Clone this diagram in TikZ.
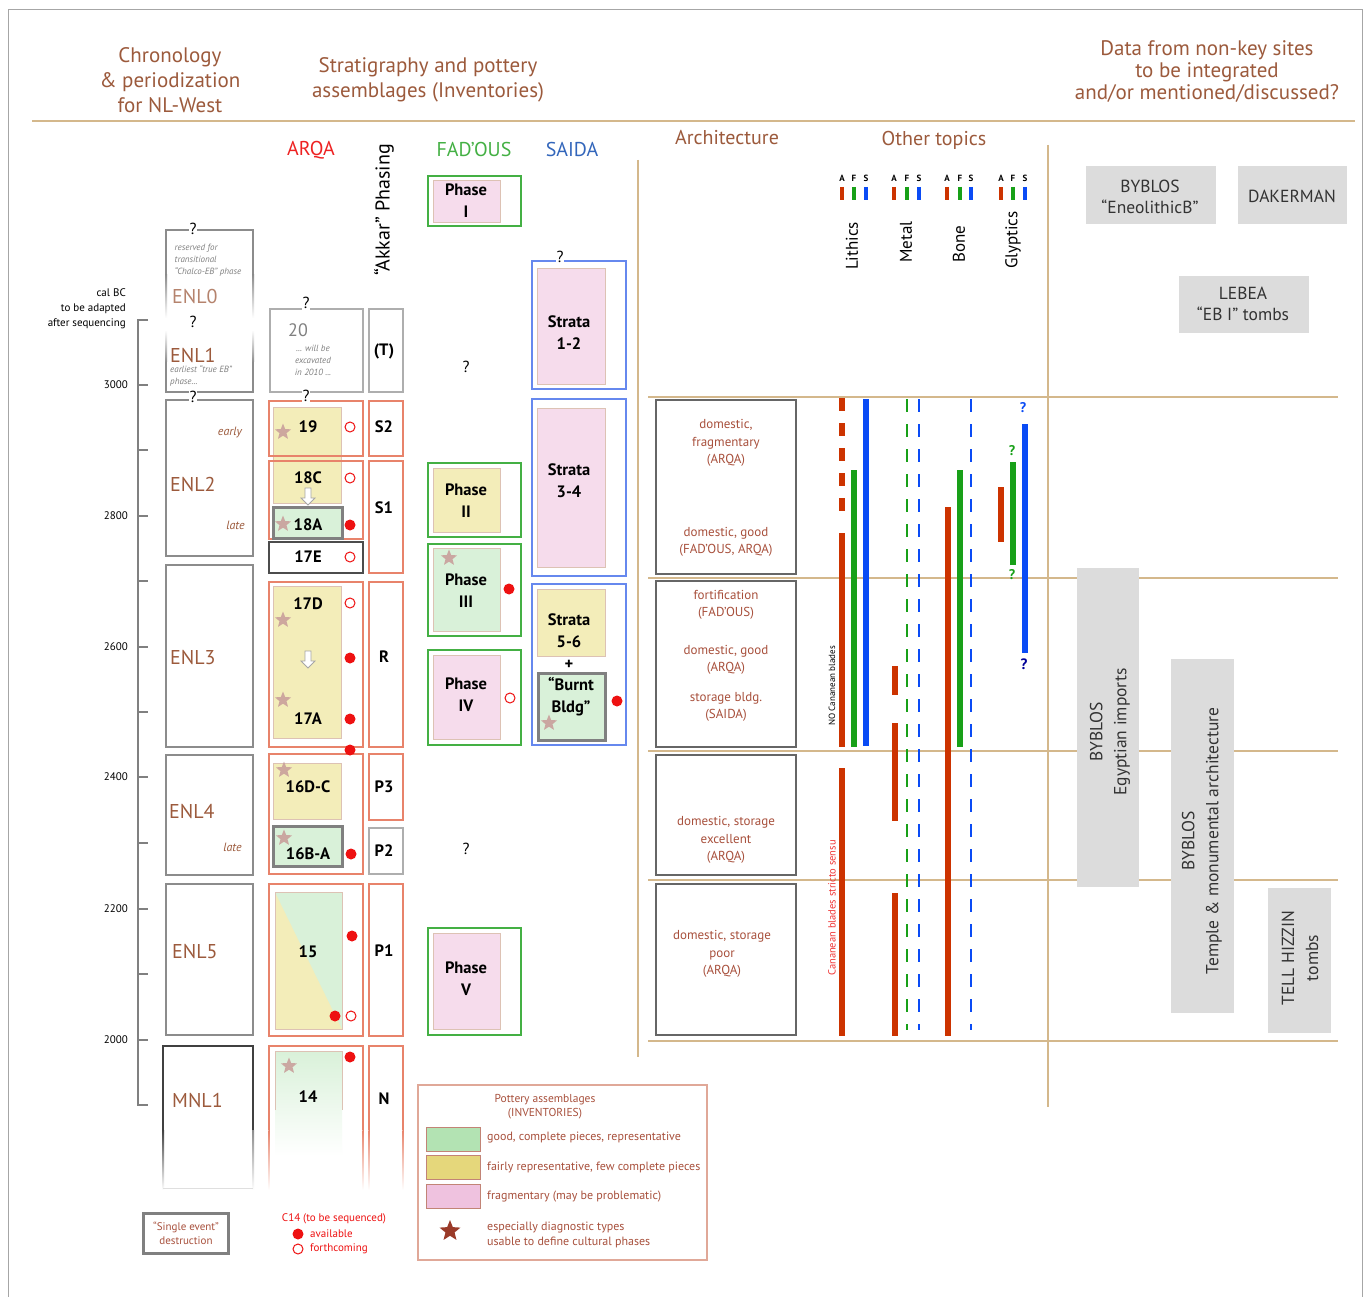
\documentclass[tikz,border=0pt]{standalone}
\usepackage{fontspec}
\setmainfont{PT Sans}
\usetikzlibrary{shapes.geometric}
\newcommand{\fsz}[2]{\fontsize{#1}{#2}\selectfont}
\definecolor{brn}{HTML}{9C5A3C}
\definecolor{rbrn}{HTML}{A8503C}
\definecolor{tanl}{HTML}{D4B88C}
\definecolor{obor}{HTML}{E8836B}
\definecolor{gbor}{HTML}{8C8C8C}
\definecolor{yel}{HTML}{F3EDB9}
\definecolor{grn}{HTML}{D9F1D9}
\definecolor{pnk}{HTML}{F6DCEC}
\definecolor{inb}{HTML}{DDC2B4}
\definecolor{starc}{HTML}{C9A09C}
\definecolor{rbar}{HTML}{CC3300}
\definecolor{gbar}{HTML}{18A018}
\definecolor{bbar}{HTML}{0A4BF5}
\definecolor{fgreen}{HTML}{44B044}
\definecolor{sblue}{HTML}{6688EE}
\definecolor{sbluet}{HTML}{3366BB}
\definecolor{arqa}{HTML}{EE2222}
\definecolor{boxg}{HTML}{DCDCDC}
\definecolor{dot}{HTML}{EE1111}
\definecolor{legb}{HTML}{E0A898}
\definecolor{lgg}{HTML}{B3E3B3}
\definecolor{lgy}{HTML}{E5D77B}
\definecolor{lgp}{HTML}{EFC2DF}
\definecolor{lgs}{HTML}{9A3A28}
\begin{document}
\begin{tikzpicture}[x=1pt,y=-1pt,
  hdr/.style={text=brn, font=\fsz{21}{25}, align=center, inner sep=0},
  q/.style={font=\fsz{16}{18}, fill=white, inner sep=1pt},
  bl/.style={font=\bfseries\fsz{16.5}{22}, align=center, inner sep=0},
  enl/.style={text=brn, font=\fsz{20}{24}, anchor=west, inner sep=0},
  itn/.style={text=gray, font=\itshape\fsz{9}{12}, align=left, inner sep=0},
  ite/.style={text=brn, font=\itshape\fsz{12}{14}, anchor=east, inner sep=0},
  tick/.style={font=\fsz{11}{13}, anchor=east, inner sep=0},
  gbox/.style={gbor, line width=2},
  obox/.style={obor, line width=1.5},
  fbox/.style={fgreen, line width=1.5},
  sbox/.style={sblue, line width=1.5},
  abox/.style={gray!80!black, line width=1.5},
  inner/.style={draw=inb, line width=0.8},
  burnt/.style={draw=gray, line width=3, fill=grn},
  archt/.style={text=rbrn, font=\fsz{13}{17.5}, align=center, inner sep=0},
  fc/.style={circle, fill=dot, inner sep=0, minimum size=11},
  oc/.style={circle, draw=dot, fill=white, line width=1, inner sep=0, minimum size=10},
  st/.style={star, star points=5, star point ratio=2.3, fill=starc, inner sep=0, minimum size=17, opacity=0.9},
  rb/.style={rbar, line width=6},
  gb/.style={gbar, line width=6},
  bb/.style={bbar, line width=6},
  gd/.style={gbar, line width=2.2, dash pattern=on 13 off 12},
  bd/.style={bbar, line width=2.8, dash pattern=on 13 off 12},
  afs/.style={font=\bfseries\fsz{9}{10}, inner sep=0},
  topic/.style={rotate=90, font=\fsz{17}{20}, inner sep=0},
  sitet/.style={text=black!80, font=\fsz{17.5}{21}, align=center, inner sep=0},
  legt/.style={text=rbrn, font=\fsz{12}{14.5}, anchor=west, align=left, inner sep=0}
]
\useasboundingbox (0,0) rectangle (1366,1297);
\fill[white] (0,0) rectangle (1366,1297);
% frame
\draw[gray!70, line width=1] (8,1297) -- (8,10) -- (1362,10) -- (1362,1297);

% headers
\node[hdr] (hChron) at (170,80) {Chronology\\\& periodization\\for NL-West};
\node[hdr] (hStrat) at (428,80) {Stratigraphy and pottery\\assemblages (Inventories)};
\node[hdr, font=\fsz{21}{22}] (hData) at (1207,72) {Data from non-key sites\\to be integrated\\and/or mentioned/discussed?};
\draw[tanl, line width=2.5] (32,121) -- (1355,121);

\node[text=arqa, font=\fsz{20}{24}] (hArqa) at (311,150) {ARQA};
\node[rotate=90, font=\fsz{20}{22}, inner sep=0] (hAkkar) at (384,210) {“Akkar” Phasing};
\node[text=fgreen, font=\fsz{20}{24}] (hFad) at (474,150) {FAD’OUS};
\node[text=sbluet, font=\fsz{20}{24}] (hSaida) at (572,150) {SAIDA};
\node[text=brn, font=\fsz{20}{24}] (hArch) at (727,138) {Architecture};
\node[text=brn, font=\fsz{20}{24}] (hOther) at (934,140) {Other topics};

% tan grid
\draw[tanl, line width=1.5] (638,160) -- (638,1057);
\draw[tanl, line width=1.5] (1048,145) -- (1048,1107);
\foreach \yy in {397,578,751,880,1041} \draw[tanl, line width=1.2] (648,\yy) -- (1338,\yy);

% time axis
\draw[gray, line width=1.5] (148,320) -- (138,320) -- (138,1105) -- (148,1105);
\foreach \yy in {385,450,516,581,647,712,777,843,909,974,1040} \draw[gray, line width=1.5] (138,\yy) -- (148,\yy);
\node[tick] (y3000) at (128,385) {3000};
\node[tick] (y2800) at (128,516) {2800};
\node[tick] (y2600) at (128,647) {2600};
\node[tick] (y2400) at (128,777) {2400};
\node[tick] (y2200) at (128,909) {2200};
\node[tick] (y2000) at (128,1040) {2000};
\node[tick, align=right, font=\fsz{11}{15}] (calbc) at (126,309) {cal BC\\to be adapted\\after sequencing};

% ENL boxes
\draw[gbox] (166,275) -- (166,230) -- (253,230) -- (253,275);
\shade[top color=gbor, bottom color=white] (165,275) rectangle (167,318);
\shade[top color=gbor, bottom color=white] (252,275) rectangle (254,318);
\shade[top color=white, bottom color=gbor] (165,330) rectangle (167,362);
\shade[top color=white, bottom color=gbor] (252,330) rectangle (254,362);
\draw[gbox] (166,362) -- (166,392) -- (253,392) -- (253,362);
\draw[gbox] (166,400) rectangle (253,556);
\draw[gbox] (166,565) rectangle (253,747);
\draw[gbox] (166,755) rectangle (253,875);
\draw[gbox] (166,884) rectangle (253,1035);
\draw[black!75, line width=1.5] (163,1130) -- (163,1046) -- (253,1046) -- (253,1130);
\shade[top color=black!75, bottom color=white] (162,1130) rectangle (164,1190);
\shade[top color=gbor, bottom color=white] (252,1130) rectangle (254,1190);
\draw[gray!25, line width=1] (163,1188) -- (253,1188);

\node[q] (q1) at (193,229) {?};
\node[q] (q2) at (193,322) {?};
\node[q] (q3) at (193,397) {?};

\node[itn] (n0) at (208,260) {reserved for\\transitional\\“Chalco-EB” phase};
\node[enl, text=brn!75] (enl0) at (172,297) {ENL0};
\node[enl] (enl1) at (170,355) {ENL1};
\node[itn, anchor=north west] (n1) at (170,365) {earliest “true EB”\\phase...};
\node[ite] (early) at (242,433) {early};
\node[enl] (enl2) at (170,484) {ENL2};
\node[ite] (late1) at (245,525) {late};
\node[enl] (enl3) at (170,658) {ENL3};
\node[enl] (enl4) at (169,811) {ENL4};
\node[ite] (late2) at (242,847) {late};
\node[enl] (enl5) at (172,952) {ENL5};
\node[enl] (mnl1) at (172,1100) {MNL1};

% ARQA column
\draw[gbor!70, line width=1.5] (270,309) rectangle (363,392);
\node[q] (q4) at (306,303) {?};
\node[text=gray, font=\fsz{18}{20}] (a20) at (298,330) {20};
\node[itn, align=center] (n20) at (313,360) {... will be\\excavated\\in 2010 ...};

\filldraw[fill=yel, inner] (273,407) rectangle (341,503);
\draw[obox] (269,401) rectangle (363,456);
\draw[obox] (269,461) rectangle (363,539);
\filldraw[burnt] (273,507) rectangle (342,538);
\draw[black!70, line width=1.5] (269,542) rectangle (363,573);
\node[q] (q5) at (306,396) {?};
\filldraw[fill=yel, inner] (273,586) rectangle (341,738);
\draw[obox] (269,582) rectangle (363,747);
\draw[obox] (269,754) rectangle (363,874);
\filldraw[fill=yel, inner] (273,763) rectangle (341,819);
\filldraw[burnt] (273,826) rectangle (342,866);
\draw[obox] (269,884) rectangle (363,1036);
\fill[yel] (275,892) rectangle (342,1029);
\fill[grn] (275,892) -- (342,892) -- (342,1029) -- cycle;
\draw[inner] (275,892) rectangle (342,1029);
\draw[obox] (269,1130) -- (269,1046) -- (363,1046) -- (363,1130);
\shade[top color=obor, bottom color=white] (268.25,1130) rectangle (269.75,1190);
\shade[top color=obor, bottom color=white] (362.25,1130) rectangle (363.75,1190);
\shade[top color=grn, bottom color=white] (275,1051) rectangle (342,1156);
\draw[inner] (275,1110) -- (275,1051) -- (342,1051) -- (342,1110);

% down arrows
\draw[gray!70, line width=0.8, fill=white, shift={(308,498)}] (-3,-10) -- (3,-10) -- (3,0) -- (7,0) -- (0,7) -- (-7,0) -- (-3,0) -- cycle;
\draw[gray!70, line width=0.8, fill=white, shift={(308,661)}] (-3,-10) -- (3,-10) -- (3,0) -- (7,0) -- (0,7) -- (-7,0) -- (-3,0) -- cycle;

% stars
\node[st] (s1) at (283,432) {};
\node[st] (s2) at (283,524) {};
\node[st] (s3) at (283,620) {};
\node[st] (s4) at (283,700) {};
\node[st] (s5) at (284,770) {};
\node[st] (s6) at (284,838) {};
\node[st] (s7) at (289,1066) {};

\node[bl] (l19) at (308,427) {19};
\node[bl] (l18c) at (308,478) {18C};
\node[bl] (l18a) at (308,525) {18A};
\node[bl] (l17e) at (308,557) {17E};
\node[bl] (l17d) at (308,604) {17D};
\node[bl] (l17a) at (308,719) {17A};
\node[bl] (l16dc) at (308,787) {16D-C};
\node[bl] (l16ba) at (308,854) {16B-A};
\node[bl] (l15) at (308,952) {15};
\node[bl] (l14) at (308,1097) {14};

% circles
\node[oc] (c1) at (350,427) {};
\node[oc] (c2) at (350,478) {};
\node[fc] (c3) at (350,525) {};
\node[oc] (c4) at (350,557) {};
\node[oc] (c5) at (350,603) {};
\node[fc] (c6) at (350,658) {};
\node[fc] (c7) at (350,719) {};
\node[fc] (c8) at (350,750) {};
\node[fc] (c9) at (351,854) {};
\node[fc] (c10) at (352,936) {};
\node[fc] (c11) at (335,1016) {};
\node[oc] (c12) at (351,1016) {};
\node[fc] (c13) at (350,1057) {};
\node[fc] (c14) at (509,589) {};
\node[oc] (c15) at (510,698) {};
\node[fc] (c16) at (617,701) {};

% Akkar column
\draw[gbor!70, line width=1.5] (369,309) rectangle (403,392);
\draw[obox] (369,401) rectangle (403,456);
\draw[obox] (369,461) rectangle (403,573);
\draw[obox] (369,582) rectangle (403,747);
\draw[obox] (369,754) rectangle (403,820);
\draw[gbor!70, line width=1.5] (369,828) rectangle (403,874);
\draw[obox] (369,884) rectangle (403,1036);
\draw[obox] (369,1130) -- (369,1046) -- (403,1046) -- (403,1130);
\shade[top color=obor, bottom color=white] (368.25,1130) rectangle (369.75,1190);
\shade[top color=obor, bottom color=white] (402.25,1130) rectangle (403.75,1190);
\node[bl] (pT) at (384,351) {(T)};
\node[bl] (pS2) at (384,427) {S2};
\node[bl] (pS1) at (384,508) {S1};
\node[bl] (pR) at (384,657) {R};
\node[bl] (pP3) at (384,787) {P3};
\node[bl] (pP2) at (384,851) {P2};
\node[bl] (pP1) at (384,951) {P1};
\node[bl] (pN) at (384,1099) {N};

% FAD'OUS
\draw[fbox] (428,176) rectangle (521,226);
\filldraw[fill=pnk, inner] (433,180) rectangle (500,222);
\node[bl] (f1) at (466,201) {Phase\\I};
\node[font=\fsz{16}{18}, inner sep=0] (q6) at (466,367) {?};
\draw[fbox] (428,463) rectangle (521,537);
\filldraw[fill=yel, inner] (433,468) rectangle (500,532);
\node[bl] (f2) at (466,501) {Phase\\II};
\draw[fbox] (428,544) rectangle (521,636);
\filldraw[fill=grn, inner] (433,548) rectangle (500,631);
\node[st] (s8) at (449,558) {};
\node[bl] (f3) at (466,591) {Phase\\III};
\draw[fbox] (428,650) rectangle (521,745);
\filldraw[fill=pnk, inner] (433,655) rectangle (500,739);
\node[bl] (f4) at (466,695) {Phase\\IV};
\node[font=\fsz{16}{18}, inner sep=0] (q7) at (466,849) {?};
\draw[fbox] (428,928) rectangle (521,1035);
\filldraw[fill=pnk, inner] (433,933) rectangle (500,1029);
\node[bl] (f5) at (466,979) {Phase\\V};

% SAIDA
\draw[sbox] (532,261) rectangle (626,389);
\node[q] (q8) at (560,257) {?};
\filldraw[fill=pnk, inner] (537,268) rectangle (605,384);
\node[bl] (sa1) at (569,333) {Strata\\1-2};
\draw[sbox] (532,399) rectangle (626,576);
\filldraw[fill=pnk, inner] (537,408) rectangle (605,567);
\node[bl] (sa2) at (569,481) {Strata\\3-4};
\draw[sbox] (532,584) rectangle (626,745);
\filldraw[fill=yel, inner] (537,589) rectangle (605,656);
\node[bl] (sa3) at (569,631) {Strata\\5-6};
\node[bl] (plus) at (569,665) {+};
\filldraw[burnt] (538,673) rectangle (605,740);
\node[st] (s9) at (549,723) {};
\node[bl] (sa4) at (571,697) {“Burnt\\Bldg”};

% Architecture
\draw[abox] (656,400) rectangle (796,574);
\draw[abox] (656,581) rectangle (796,747);
\draw[abox] (656,755) rectangle (796,875);
\draw[abox] (656,884) rectangle (796,1035);
\node[archt] (ar1) at (726,443) {domestic,\\fragmentary\\(ARQA)};
\node[archt] (ar2) at (726,542) {domestic, good\\(FAD’OUS, ARQA)};
\node[archt] (ar3) at (726,605) {fortification\\(FAD’OUS)};
\node[archt] (ar4) at (726,660) {domestic, good\\(ARQA)};
\node[archt] (ar5) at (726,707) {storage bldg.\\(SAIDA)};
\node[archt] (ar6) at (726,840) {domestic, storage\\excellent\\(ARQA)};
\node[archt] (ar7) at (722,954) {domestic, storage\\poor\\(ARQA)};

% AFS legend
\foreach \xa/\xf/\xs/\nm in {842/854/866/a, 894/907/919/b, 947/960/971/c, 1001/1013/1025/d}{
  \node[afs] (A\nm) at (\xa,178) {A};
  \node[afs] (F\nm) at (\xf,178) {F};
  \node[afs] (S\nm) at (\xs,178) {S};
  \draw[rbar, line width=4] (\xa,187) -- (\xa,200);
  \draw[gbar, line width=4] (\xf,187) -- (\xf,200);
  \draw[bbar, line width=4] (\xs,187) -- (\xs,200);
}
\node[topic] (tLith) at (852,246) {Lithics};
\node[topic] (tMetal) at (906,242) {Metal};
\node[topic] (tBone) at (959,244) {Bone};
\node[topic] (tGlyp) at (1013,240) {Glyptics};

% Lithics
\draw[rbar, line width=6, dash pattern=on 13 off 12] (842,398) -- (842,512);
\draw[rb] (842,533) -- (842,747);
\draw[gb] (854,470) -- (854,747);
\draw[bb] (866,399) -- (866,746);
\draw[rb] (842,768) -- (842,1036);
\node[rotate=90, font=\fsz{9}{10}, inner sep=0] (noCan) at (832,686) {NO Cananean blades};
\node[rotate=90, font=\fsz{10.5}{12}, text=dot!85, inner sep=0] (can) at (832,908) {Cananean blades stricto sensu};
% Metal
\draw[rb] (895,666) -- (895,695);
\draw[rb] (895,723) -- (895,821);
\draw[rb] (895,893) -- (895,1036);
\draw[gd] (907,399) -- (907,1030);
\draw[bd] (919,399) -- (919,1030);
% Bone
\draw[rb] (948,507) -- (948,1036);
\draw[gb] (960,470) -- (960,747);
\draw[bd] (971,399) -- (971,1030);
% Glyptics
\draw[rb] (1001,487) -- (1001,542);
\draw[gb] (1013,462) -- (1013,565);
\draw[bb] (1025,424) -- (1025,653);
\node[text=bbar, font=\bfseries\fsz{14}{16}, inner sep=0] (gq1) at (1023,408) {?};
\node[text=gbar, font=\bfseries\fsz{14}{16}, inner sep=0] (gq2) at (1012,451) {?};
\node[text=gbar, font=\bfseries\fsz{14}{16}, inner sep=0] (gq3) at (1012,575) {?};
\node[text=blue!60!black, font=\bfseries\fsz{15}{16}, inner sep=0] (gq4) at (1024,664) {?};

% non-key sites
\fill[boxg] (1086,166) rectangle (1216,224);
\node[sitet] (byb1) at (1150,197) {BYBLOS\\“EneolithicB”};
\fill[boxg] (1238,166) rectangle (1347,224);
\node[sitet] (dak) at (1292,196) {DAKERMAN};
\fill[boxg] (1179,276) rectangle (1309,333);
\node[sitet] (leb) at (1243,304) {LEBEA\\“EB I” tombs};
\fill[boxg] (1077,568) rectangle (1139,887);
\node[sitet, rotate=90, font=\fsz{17.5}{24}] (byb2) at (1110,732) {BYBLOS\\Egyptian imports};
\fill[boxg] (1171,659) rectangle (1234,1013);
\node[sitet, rotate=90, font=\fsz{17.5}{24}] (byb3) at (1202,841) {BYBLOS\\Temple \& monumental architecture};
\fill[boxg] (1268,888) rectangle (1331,1033);
\node[sitet, rotate=90, font=\fsz{17.5}{24}] (tell) at (1300,958) {TELL HIZZIN\\tombs};

% legend
\draw[legb, line width=1.5] (418,1085) rectangle (707,1260);
\node[text=rbrn, font=\fsz{11.5}{14}, align=center, inner sep=0] (legT) at (545,1107) {Pottery assemblages\\(INVENTORIES)};
\filldraw[fill=lgg, draw=rbrn!70, line width=1] (426,1127) rectangle (480,1151);
\filldraw[fill=lgy, draw=rbrn!70, line width=1] (426,1155) rectangle (480,1179);
\filldraw[fill=lgp, draw=rbrn!70, line width=1] (426,1184) rectangle (480,1208);
\node[legt] (lg1) at (487,1138) {good, complete pieces, representative};
\node[legt] (lg2) at (487,1167) {fairly representative, few complete pieces};
\node[legt] (lg3) at (487,1197) {fragmentary (may be problematic)};
\node[star, star points=5, star point ratio=2.3, fill=lgs, inner sep=0, minimum size=22] (lgstar) at (450,1231) {};
\node[legt] (lg4) at (487,1235) {especially diagnostic types\\usable to define cultural phases};

\draw[gray, line width=3] (143,1213) rectangle (228,1253);
\node[text=rbrn, font=\fsz{11}{14}, align=center, inner sep=0] (single) at (186,1233) {“Single event”\\destruction};

\node[text=dot, font=\fsz{11}{13}, inner sep=0] (c14t) at (334,1219) {C14 (to be sequenced)};
\node[fc] (lc1) at (298,1234) {};
\node[oc] (lc2) at (298,1249) {};
\node[legt, text=dot, font=\fsz{11}{13}] (lav) at (310,1234) {available};
\node[legt, text=dot, font=\fsz{11}{13}] (lfo) at (310,1249) {forthcoming};
\end{tikzpicture}
\end{document}
